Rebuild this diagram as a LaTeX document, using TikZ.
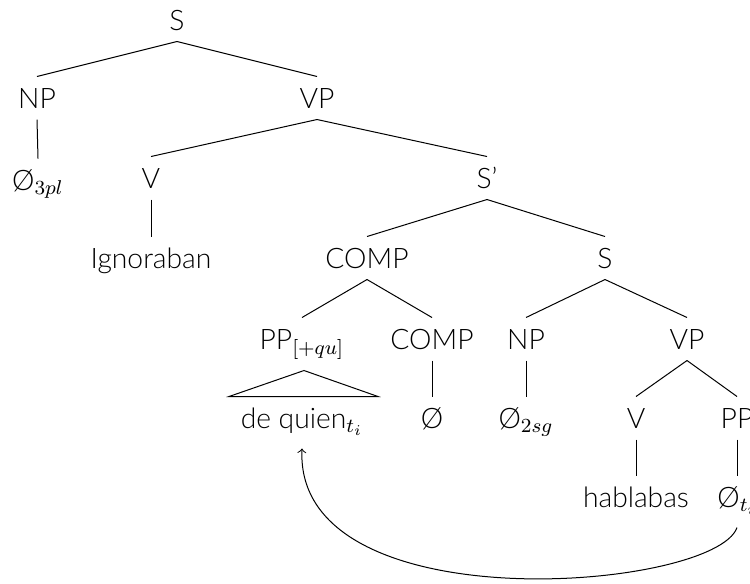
\documentclass[tikz,border=0pt]{standalone}
\usepackage{fontspec}
\setmainfont{Lato}[UprightFont=* Light]
\usetikzlibrary{calc}
\begin{document}
\begin{tikzpicture}[x=0.4pt,y=-0.4pt,
  lab/.style={anchor=base, inner xsep=0pt, inner ysep=4.4pt, text height=8pt, text depth=0pt, font=\fontsize{11.3}{13.5}\selectfont},
  branch/.style={line width=0.4pt},
  movearrow/.style={->, line width=0.4pt}]
\useasboundingbox (0,0) rectangle (750,583);
\fill[white] (0,0) rectangle (750,583);
\clip (0,0) rectangle (750,583);
% nodes
\node[lab] (S) at (177,30) {S};
\node[lab] (NP) at (37,108) {NP};
\node[lab] (VP) at (317,108) {VP};
\node[lab] (N1) at (38,190) {Ø$_{3pl}$};
\node[lab] (V) at (151,188) {V};
\node[lab] (Sp) at (487,188) {S’};
\node[lab] (Ig) at (151,268) {Ignoraban};
\node[lab] (COMP) at (367,268) {COMP};
\node[lab] (S2) at (605,268) {S};
\node[lab] (PPq) at (302,349) {PP$_{[+qu]}$};
\node[lab] (COMP2) at (432,349) {COMP};
\node[lab] (NP2) at (526,349) {NP};
\node[lab] (VP2) at (687,349) {VP};
\node[lab] (dq) at (302,428) {de quien$_{t_i}$};
\node[lab] (E1) at (432,428) {Ø};
\node[lab] (E2) at (526,428) {Ø$_{2sg}$};
\node[lab] (V2) at (636,428) {V};
\node[lab] (PP2) at (737,428) {PP};
\node[lab] (hab) at (636,507) {hablabas};
\node[lab] (E3) at (737,507) {Ø$_{t_i}$};
% branches
\draw[branch] (S.south) -- (NP.north);
\draw[branch] (S.south) -- (VP.north);
\draw[branch] (NP.south) -- (N1.north);
\draw[branch] (VP.south) -- (V.north);
\draw[branch] (VP.south) -- (Sp.north);
\draw[branch] (V.south) -- (Ig.north);
\draw[branch] (Sp.south) -- (COMP.north);
\draw[branch] (Sp.south) -- (S2.north);
\draw[branch] (COMP.south) -- (PPq.north);
\draw[branch] (COMP.south) -- (COMP2.north);
\draw[branch] (COMP2.south) -- (E1.north);
\draw[branch] (S2.south) -- (NP2.north);
\draw[branch] (S2.south) -- (VP2.north);
\draw[branch] (NP2.south) -- (E2.north);
\draw[branch] (VP2.south) -- (V2.north);
\draw[branch] (VP2.south) -- (PP2.north);
\draw[branch] (V2.south) -- (hab.north);
\draw[branch] (PP2.south) -- (E3.north);
% triangle
\draw[branch] ($(PPq.south)+(2,10)$) -- ($(dq.north)+(-73,0)$) -- ($(dq.north)+(76,0)$) -- cycle;
% movement arrow
\draw[movearrow] ($(E3.south)+(0,9)$) .. controls +(-22,63) and +(-8,177) .. ($(dq.south)+(0,9)$);
\end{tikzpicture}
\end{document}
